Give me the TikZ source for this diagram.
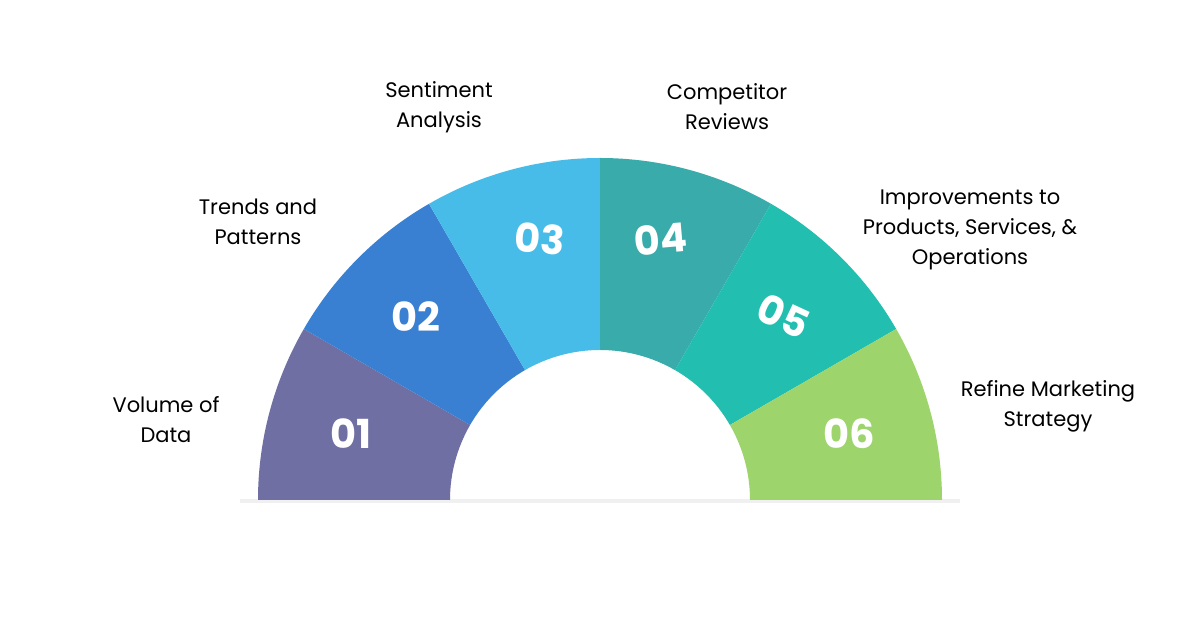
\documentclass[tikz,border=0pt]{standalone}
\usepackage{fontspec}
\setmainfont{Poppins}
\usetikzlibrary{positioning}
\definecolor{segA}{HTML}{6F6FA3}
\definecolor{segB}{HTML}{3A80D2}
\definecolor{segC}{HTML}{48BCE8}
\definecolor{segD}{HTML}{38ABAA}
\definecolor{segE}{HTML}{22BFB0}
\definecolor{segF}{HTML}{9ED46C}
\tikzset{
  numtext/.style={text=white, font=\fontsize{40}{40}\selectfont\bfseries},
  labtext/.style={align=center, font=\fontsize{21}{30}\selectfont}
}
\begin{document}
\begin{tikzpicture}[x=1pt, y=1pt]
\newcommand{\rout}{342}
\newcommand{\rin}{150}
\useasboundingbox (0,0) rectangle (1200,628);
\fill[white] (0,0) rectangle (1200,628);
\coordinate (center) at (600,128);
% shadow under the arc
\fill[black!6] (240,125) rectangle (960,129);
\foreach \col [count=\i] in {segA,segB,segC,segD,segE,segF} {
  \pgfmathsetmacro{\start}{180-30*(\i-1)}
  \pgfmathsetmacro{\stop}{180-30*\i}
  \fill[\col] ([shift={(\start:\rout)}]center) arc (\start:\stop:\rout)
    -- ([shift={(\stop:\rin)}]center) arc (\stop:\start:\rin) -- cycle;
}
\node[numtext] (n1) at ([shift={(165:258)}]center) {01};
\node[numtext] (n2) at ([shift={(135:260)}]center) {02};
\node[numtext, rotate=-5] (n3) at ([shift={(103:268)}]center) {03};
\node[numtext, rotate=5] (n4) at ([shift={(77:268)}]center) {04};
\node[numtext, rotate=-25] (n5) at ([shift={(45:260)}]center) {05};
\node[numtext] (n6) at ([shift={(15:258)}]center) {06};
\node[labtext] (l1) at (166,208) {Volume of\\Data};
\node[labtext] (l2) at (258,406) {Trends and\\Patterns};
\node[labtext] (l3) at (439,521) {Sentiment\\Analysis};
\node[labtext] (l4) at (727,521) {Competitor\\Reviews};
\node[labtext] (l5) at (970,398) {Improvements to\\Products, Services, \&\\Operations};
\node[labtext] (l6) at (1048,222) {Refine Marketing\\Strategy};
\end{tikzpicture}
\end{document}
